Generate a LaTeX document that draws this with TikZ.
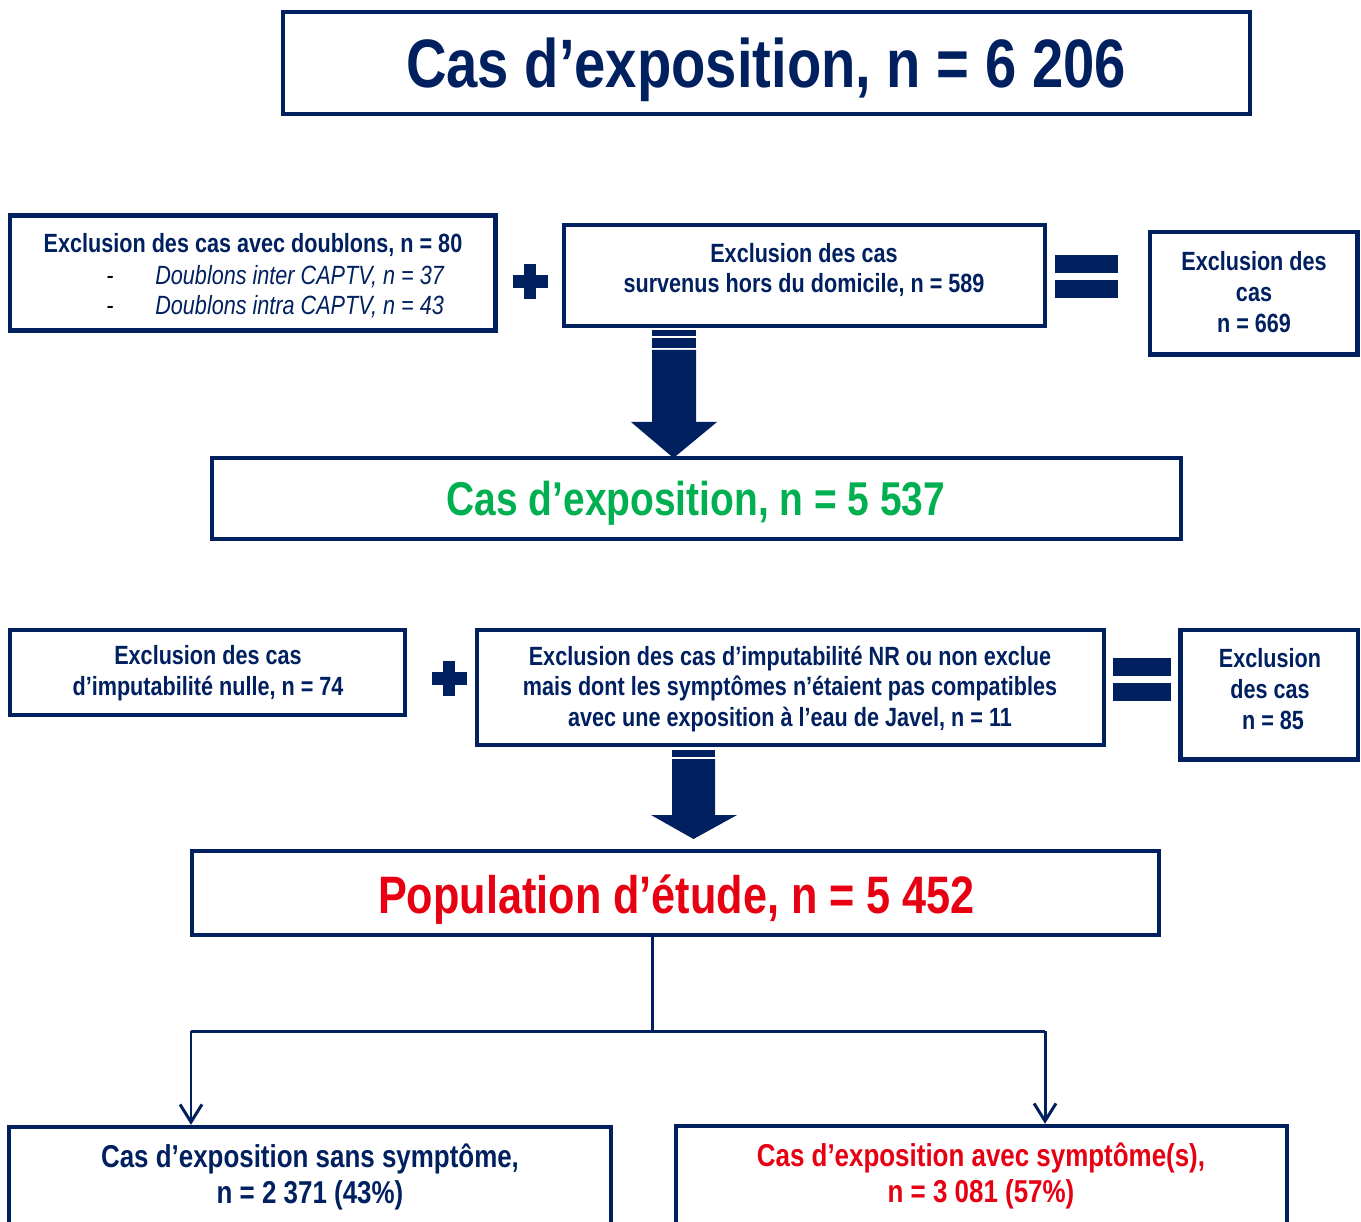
\documentclass[tikz,border=0pt]{standalone}
\usepackage{fontspec}
\setmainfont{Liberation Sans}[FakeStretch=0.82]
\usetikzlibrary{arrows.meta}
\definecolor{navy}{RGB}{0,32,96}
\definecolor{cgreen}{RGB}{0,176,80}
\definecolor{cred}{RGB}{230,0,18}
\newlength\pxu \setlength\pxu{0.02cm}
\newcommand\bx[5]{\node[box,minimum width={(#4-#2)*0.02cm},minimum height={(#5-#3)*0.02cm}] (#1) at ({(#2+#4)/2},{(#3+#5)/2}) {};}
\begin{document}
\begin{tikzpicture}[x=0.02cm,y=-0.02cm,
  box/.style={draw=navy,line width=2.5pt,fill=white,inner sep=0pt},
  txt/.style={text=navy,font={\bfseries\fontsize{15pt}{17.6pt}\selectfont},align=center,inner sep=0pt},
  itxt/.style={text=navy,font={\itshape\fontsize{15pt}{17.6pt}\selectfont},inner sep=0pt},
  btxt/.style={txt,font={\bfseries\fontsize{18pt}{21pt}\selectfont}},
  conn/.style={draw=navy,line width=1.7pt,line join=miter},
  blk/.style={fill=navy},
  tip/.style={-{Straight Barb[length=10pt,width=12.5pt]}}]
\useasboundingbox (0,0) rectangle (1361,1222);
\clip (0,0) rectangle (1361,1222);

% top title
\bx{bTop}{283}{12}{1250}{114}
\node[txt,anchor=base,font={\bfseries\fontsize{39pt}{44pt}\selectfont}] (tTop) at (766,88) {Cas d’exposition, n = 6 206};

% box A
\bx{bA}{10}{215.5}{495.5}{330.5}
\node[txt,anchor=base] (tA) at (253,252.5) {Exclusion des cas avec doublons, n = 80};
\node[itxt,anchor=base west] (tA1) at (106,284.5) {\makebox[49\pxu][l]{\textcolor{black}{-}}Doublons inter CAPTV, n = 37};
\node[itxt,anchor=base west] (tA2) at (106,314.5) {\makebox[49\pxu][l]{\textcolor{black}{-}}Doublons intra CAPTV, n = 43};

% plus 1
\fill[blk] (524,264) rectangle (536,299);
\fill[blk] (513,275.5) rectangle (548,288);

% box B
\bx{bB}{564}{225}{1045}{326}
\node[txt] (tB) at (804,270) {Exclusion des cas\\survenus hors du domicile, n = 589};

% equals 1
\fill[blk] (1055,255) rectangle (1118,273);
\fill[blk] (1055,280) rectangle (1118,298);

% box C
\bx{bC}{1150}{232}{1357.5}{354.5}
\node[txt] (tC) at (1254,292) {Exclusion des\\cas\\n = 669};

% big arrow 1
\fill[blk] (652,330) rectangle (696,336);
\fill[blk] (652,338) rectangle (696,348);
\fill[blk] (652,350) -- (696,350) -- (696,422) -- (717,422) -- (673.5,458) -- (631,422) -- (652,422) -- cycle;

% box D
\bx{bD}{212}{458}{1181}{539}
\node[txt,anchor=base,text=cgreen,font={\bfseries\fontsize{27pt}{32pt}\selectfont}] (tD) at (696,516) {Cas d’exposition, n = 5 537};

% box E
\bx{bE}{10}{630}{405}{715}
\node[txt] (tE) at (208,673) {Exclusion des cas\\d’imputabilité nulle, n = 74};

% plus 2
\fill[blk] (443,660.5) rectangle (455,695.5);
\fill[blk] (431.5,672) rectangle (466.5,684.5);

% box F
\bx{bF}{477}{630}{1104}{745}
\node[txt] (tF) at (790,689) {Exclusion des cas d’imputabilité NR ou non exclue\\mais dont les symptômes n’étaient pas compatibles\\avec une exposition à l’eau de Javel, n = 11};

% equals 2
\fill[blk] (1113,658) rectangle (1171,676);
\fill[blk] (1113,683) rectangle (1171,701);

% box G
\bx{bG}{1180.5}{630}{1358}{759.5}
\node[txt] (tG) at (1270,689) {Exclusion\\des cas\\\hspace*{6\pxu}n = 85};

% big arrow 2
\fill[blk] (672,750) rectangle (715,757);
\fill[blk] (672,759) -- (715,759) -- (715,815) -- (737,815) -- (693.5,839) -- (651,815) -- (672,815) -- cycle;

% box H
\bx{bH}{192}{851}{1159}{935}
\node[txt,anchor=base,text=cred,font={\bfseries\fontsize{30pt}{35pt}\selectfont}] (tH) at (676.5,913) {Population d’étude, n = 5 452};

% bottom boxes
\bx{bI}{9}{1127}{611}{1300}
\node[btxt] (tI) at (310,1177) {Cas d’exposition sans symptôme,\\n = 2 371 (43\%)};
\bx{bJ}{676}{1126}{1287}{1300}
\node[btxt,text=cred] (tJ) at (981,1176) {Cas d’exposition avec symptôme(s),\\n = 3 081 (57\%)};

% connectors
\coordinate (mx) at (652,1031);
\coordinate (jl) at (191,1031);
\coordinate (jr) at (1045,1031);
\draw[conn] (mx |- bH.south) -- (mx);
\draw[conn] (jl) -- (jr);
\draw[conn,tip] (jl) -- (jl |- bI.north);
\draw[conn,tip] (jr) -- (jr |- bJ.north);
\end{tikzpicture}
\end{document}
